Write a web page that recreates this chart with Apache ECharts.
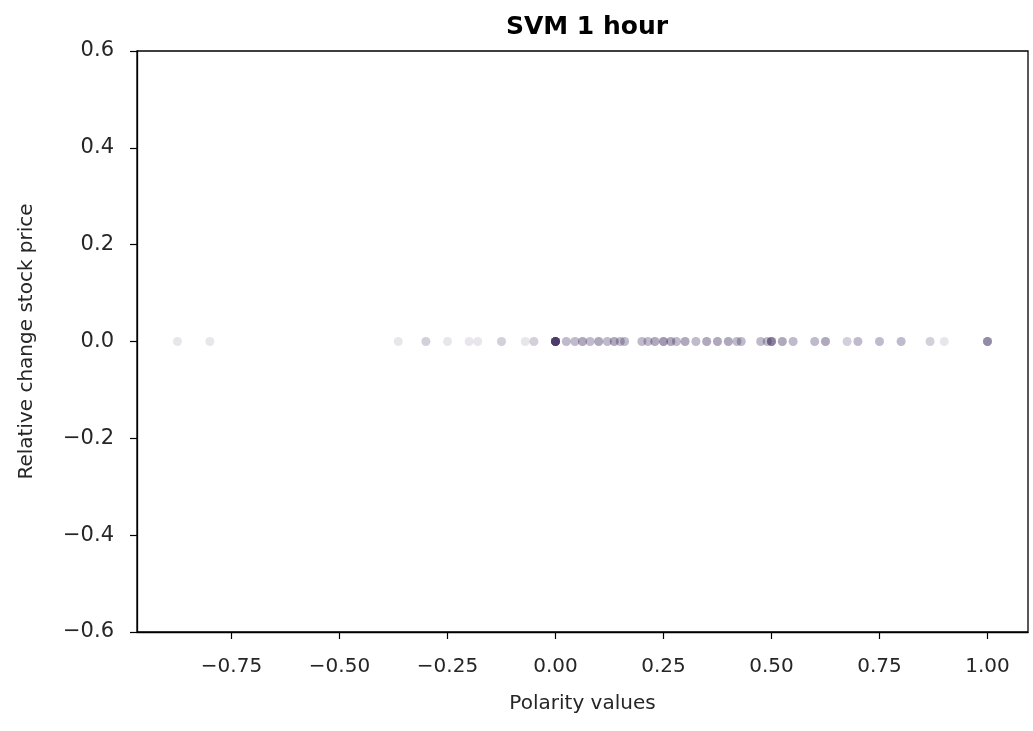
<!DOCTYPE html>
<html>
<head>
<meta charset="utf-8">
<script src="https://cdn.jsdelivr.net/npm/echarts@6/dist/echarts.min.js"></script>
<style>html,body{margin:0;padding:0;background:#fff}#c{width:1033px;height:731px}</style>
</head>
<body>
<div id="c"></div>
<script>
// Polarity values (x) and how many observations sit at each (overlapping, semi-transparent)
const polarity = [-0.875, -0.8, -0.364, -0.3, -0.25, -0.2, -0.18, -0.125, -0.07, -0.05,
  0.0, 0.025, 0.045, 0.0625, 0.08, 0.1, 0.12, 0.136, 0.15, 0.16, 0.2, 0.214, 0.23, 0.25, 0.267, 0.28,
  0.3, 0.325, 0.35, 0.375, 0.4, 0.42, 0.43, 0.475, 0.49, 0.5, 0.525, 0.55, 0.6, 0.625, 0.675, 0.7, 0.75,
  0.8, 0.867, 0.9, 1.0];
const counts = [1, 1, 1, 2, 1, 1, 1, 2, 1, 2,
  16, 3, 3, 4, 3, 4, 3, 4, 3, 3, 3, 3, 4, 5, 4, 3,
  4, 3, 4, 4, 4, 3, 3, 3, 3, 7, 4, 3, 3, 4, 2, 3, 3,
  3, 2, 1, 6];
const relChange = 0.0; // relative change in stock price for every observation
const xTicks = [-0.75, -0.5, -0.25, 0.0, 0.25, 0.5, 0.75, 1.0];
const yTicks = [-0.6, -0.4, -0.2, 0.0, 0.2, 0.4, 0.6];

const points = [];
polarity.forEach((p, i) => { for (let k = 0; k < counts[i]; k++) points.push([p, relChange]); });

const fmt = (v, d) => { const s = Math.abs(v).toFixed(d); return (v < -1e-9 ? '\u2212' : '') + s; };
const font = 'DejaVu Sans';
const txt = '#262626';

const chart = echarts.init(document.getElementById('c'));
chart.setOption({
  animation: false,
  backgroundColor: '#fff',
  title: {
    text: 'SVM 1 hour', left: 582, top: 10, textAlign: 'center',
    textStyle: { fontFamily: font, fontSize: 25, fontWeight: 'bold', color: '#000' }
  },
  grid: { left: 137, right: 5, top: 51, bottom: 99, containLabel: false, outerBoundsMode: 'none',
    show: true, borderColor: '#000', borderWidth: 1.3, backgroundColor: 'transparent' },
  xAxis: {
    type: 'value', min: -0.96875, max: 1.09375,
    name: 'Polarity values', nameLocation: 'middle', nameGap: 62,
    nameTextStyle: { fontFamily: font, fontSize: 20, color: txt },
    splitLine: { show: false },
    axisLine: { show: true, onZero: false, lineStyle: { color: '#000', width: 1.3 } },
    axisTick: { show: true, length: 7, customValues: xTicks, lineStyle: { color: '#000', width: 1.2 } },
    axisLabel: { customValues: xTicks, margin: 25, fontFamily: font, fontSize: 20, color: txt, formatter: v => fmt(v, 2) }
  },
  yAxis: {
    type: 'value', min: -0.6, max: 0.6, interval: 0.2,
    name: 'Relative change stock price', nameLocation: 'middle', nameGap: 100, nameRotate: 90,
    nameTextStyle: { fontFamily: font, fontSize: 20, color: txt },
    splitLine: { show: false },
    axisLine: { show: true, onZero: false, lineStyle: { color: '#000', width: 1.3 } },
    axisTick: { show: true, length: 7, lineStyle: { color: '#000', width: 1.2 } },
    axisLabel: { margin: 23, fontFamily: font, fontSize: 21, color: txt, formatter: v => fmt(v, 1) }
  },
  series: [{
    type: 'scatter', data: points, symbolSize: 9,
    itemStyle: { color: '#2a1d4f', opacity: 0.11 }
  }]
});
</script>
</body>
</html>
